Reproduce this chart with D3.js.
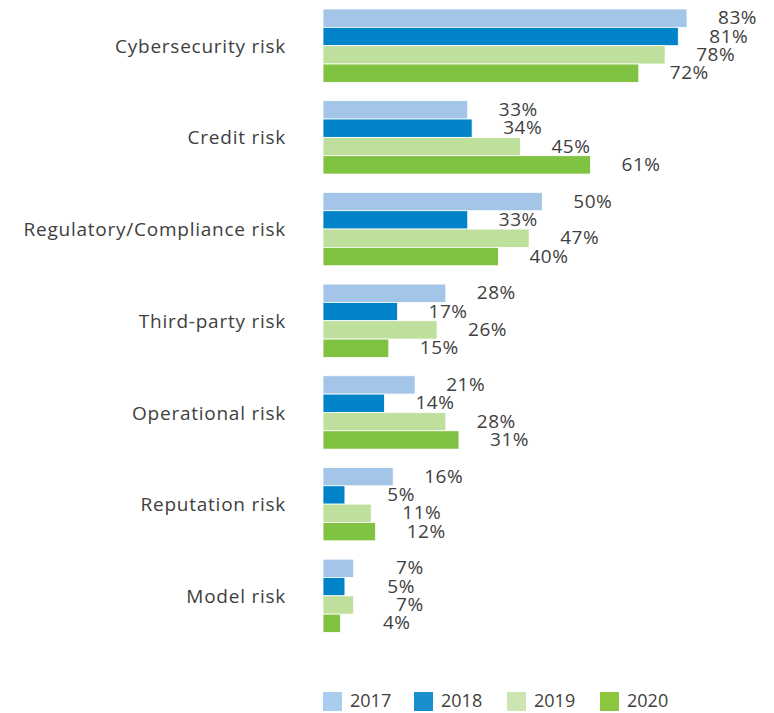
<!DOCTYPE html>
<html>
<head>
<meta charset="utf-8">
<script src="https://cdn.jsdelivr.net/npm/d3@7"></script>
<style>
  body { margin: 0; background: #fff; }
  svg { display: block; }
  text { font-family: "Open Sans", "Noto Sans", sans-serif; fill: #404040; font-weight: 400; }
</style>
</head>
<body>
<svg id="chart" width="774" height="713"></svg>
<script>
const categories = ["Cybersecurity risk", "Credit risk", "Regulatory/Compliance risk", "Third-party risk", "Operational risk", "Reputation risk", "Model risk"];
const years = ["2017", "2018", "2019", "2020"];
const v2017 = [83, 33, 50, 28, 21, 16, 7];
const v2018 = [81, 34, 33, 17, 14, 5, 5];
const v2019 = [78, 45, 47, 26, 28, 11, 7];
const v2020 = [72, 61, 40, 15, 31, 12, 4];
const seriesValues = [v2017, v2018, v2019, v2020];
const barColors = ["#a3c5e8", "#0083c9", "#bfdf9d", "#80c242"];
const legendColors = ["#a9cdee", "#1a8fd0", "#cce5b2", "#8cc63f"];

const svg = d3.select("#chart");

const x = d3.scaleLinear().domain([0, 100]).range([323, 761.6]);
const y0 = d3.scaleBand().domain(categories).range([9, 632.5]).paddingInner(0.2).paddingOuter(0);
const y1 = d3.scaleBand().domain(years).range([0, y0.bandwidth()]).padding(0);

const data = categories.map((c, i) => ({
  cat: c,
  vals: years.map((yr, j) => ({ year: yr, j, value: seriesValues[j][i] }))
}));

const groups = svg.selectAll("g.grp").data(data).join("g")
  .attr("class", "grp")
  .attr("transform", d => `translate(0,${y0(d.cat)})`);

groups.selectAll("rect").data(d => d.vals).join("rect")
  .attr("x", x(0))
  .attr("y", d => y1(d.year))
  .attr("width", d => x(d.value) - x(0))
  .attr("height", y1.bandwidth())
  .attr("fill", d => barColors[d.j])
  .attr("stroke", "#ffffff")
  .attr("stroke-width", 0.8);

groups.selectAll("text.val").data(d => d.vals).join("text")
  .attr("class", "val")
  .attr("x", d => x(d.value) + 70)
  .attr("y", d => y1(d.year) + y1.bandwidth() / 2 + 1)
  .attr("text-anchor", "end")
  .attr("dominant-baseline", "middle")
  .style("font-size", "19px")
  .style("letter-spacing", "0.5px")
  .text(d => d.value + "%");

svg.selectAll("text.cat").data(categories).join("text")
  .attr("class", "cat")
  .attr("x", 286)
  .attr("y", d => y0(d) + y0.bandwidth() / 2 + 2)
  .attr("text-anchor", "end")
  .attr("dominant-baseline", "middle")
  .style("font-size", "19px")
  .style("letter-spacing", "0.75px")
  .text(d => d);

// legend
const legendX = [323, 414, 507, 600];
const leg = svg.selectAll("g.leg").data(years).join("g")
  .attr("class", "leg")
  .attr("transform", (d, i) => `translate(${legendX[i]},692)`);
leg.append("rect").attr("width", 19).attr("height", 19).attr("fill", (d, i) => legendColors[i]);
leg.append("text")
  .attr("x", 27).attr("y", 10.5)
  .attr("dominant-baseline", "middle")
  .style("font-size", "18px")
  .text(d => d);
</script>
</body>
</html>
